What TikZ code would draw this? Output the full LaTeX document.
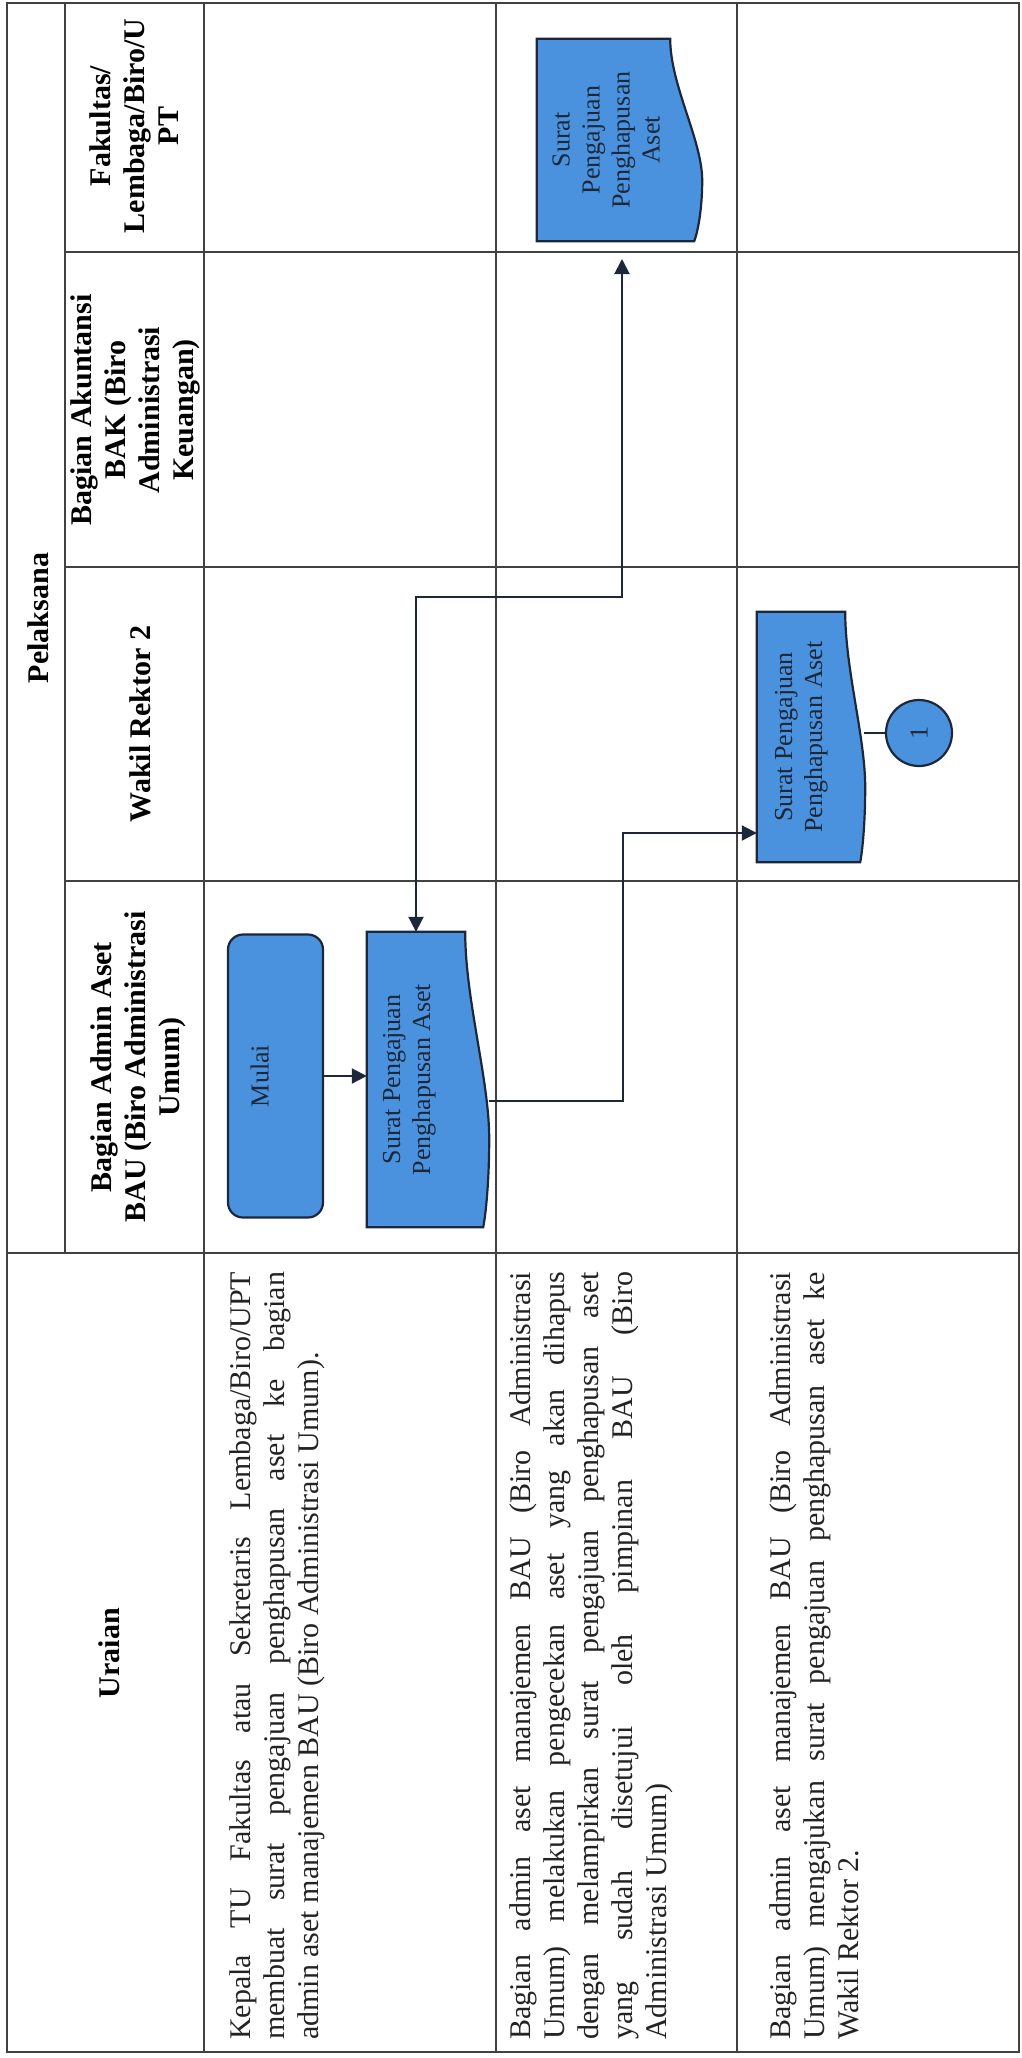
\documentclass[tikz,border=0pt]{standalone}
\usepackage{fontspec}
\usepackage{graphicx}
\setmainfont{Liberation Serif}
\usetikzlibrary{arrows.meta,calc,backgrounds}
\definecolor{boxblue}{RGB}{74,146,222}
\definecolor{boxline}{RGB}{28,40,58}
\definecolor{gridc}{RGB}{65,65,65}
\definecolor{txt}{RGB}{35,35,35}
\newcommand{\rtxt}[2]{\rotatebox{90}{\raisebox{#1}[0pt][0pt]{\begin{tabular}[b]{@{}c@{}}#2\end{tabular}}}}
\newcommand{\docshape}[2]{%
  \path[shapefill] let \p1=(#1.north west), \p2=(#1.south east), \n1={\y1-\y2} in
    (\x1,\y1) -- (\x2,\y1)
    .. controls (\x2,\y1-0.23*\n1) and (\x2+#2pt,\y1-0.5*\n1) .. (\x2+#2pt,\y1-0.7*\n1)
    .. controls (\x2+#2pt,\y1-0.85*\n1) and (\x2+0.85*#2pt,\y1-0.96*\n1) .. (\x2+0.75*#2pt,\y2)
    -- (\x1,\y2) -- cycle;}
\begin{document}
\begin{tikzpicture}[x=1pt,y=1pt,
  grid/.style={draw=gridc, line width=1.8pt},
  hdr/.style={font=\bfseries\fontsize{30}{34}\selectfont, align=center, rotate=90, inner sep=0, text=black},
  para/.style={font=\fontsize{30}{34}\selectfont, text width=768pt, align=justify, rotate=90, inner sep=0, anchor=north west, text=txt},
  boxnode/.style={inner sep=0, font=\fontsize{26}{30}\selectfont, text=boxline},
  shapefill/.style={fill=boxblue, draw=boxline, line width=2.2pt},
  arr/.style={draw=boxline, line width=2pt, -{Triangle[length=15pt,width=15pt]}},
  dbl/.style={draw=boxline, line width=2pt, {Triangle[length=15pt,width=15pt]}-{Triangle[length=15pt,width=15pt]}},
  link/.style={draw=boxline, line width=2pt},
]
\useasboundingbox (0,0) rectangle (1022,-2058);

% table grid
\draw[grid] (7,-3) rectangle (1019,-2052);
\draw[grid] (65,-3) -- (65,-1253);
\draw[grid] (204,-3) -- (204,-2052);
\draw[grid] (496,-3) -- (496,-2052);
\draw[grid] (737,-3) -- (737,-2052);
\draw[grid] (65,-252) -- (1019,-252);
\draw[grid] (65,-567) -- (1019,-567);
\draw[grid] (65,-881) -- (1019,-881);
\draw[grid] (7,-1253) -- (1019,-1253);

% headers
\node[hdr] (hPel) at (38,-618) {Pelaksana};
\node[hdr] (hFak) at (134,-126) {Fakultas/\\Lembaga/Biro/U\\PT};
\node[hdr] (hBak) at (135,-410) {Bagian Akuntansi\\BAK (Biro\\Administrasi\\Keuangan)};
\node[hdr] (hWak) at (140,-724) {Wakil Rektor 2};
\node[hdr] (hBau) at (138,-1067) {Bagian Admin Aset\\BAU (Biro Administrasi\\Umum)};
\node[hdr] (hUra) at (109,-1653) {Uraian};

% descriptions
\node[para] (r1) at (229,-2040) {Kepala TU Fakultas atau Sekretaris Lembaga/Biro/UPT\linebreak
membuat surat pengajuan penghapusan aset ke bagian\linebreak
admin aset manajemen BAU (Biro Administrasi Umum).};
\node[para] (r2) at (509,-2040) {Bagian admin aset manajemen BAU (Biro Administrasi\linebreak
Umum) melakukan pengecekan aset yang akan dihapus\linebreak
dengan melampirkan surat pengajuan penghapusan aset\linebreak
yang sudah disetujui oleh pimpinan BAU (Biro\linebreak
Administrasi Umum)};
\node[para] (r3) at (769,-2040) {Bagian admin aset manajemen BAU (Biro Administrasi\linebreak
Umum) mengajukan surat pengajuan penghapusan aset ke\linebreak
Wakil Rektor 2.};

% flow nodes
\node[boxnode, draw=boxline, fill=boxblue, line width=2.2pt, rounded corners=15pt,
      minimum width=95pt, minimum height=283pt] (mulai) at (275.5,-1076) {\rtxt{7pt}{Mulai}};
\node[boxnode, minimum width=98pt, minimum height=295pt] (s1) at (416,-1079.5)
      {\rtxt{-14pt}{Surat Pengajuan\\Penghapusan Aset}};
\node[boxnode, minimum width=88pt, minimum height=250pt] (s2) at (801,-737)
      {\rtxt{-21pt}{Surat Pengajuan\\Penghapusan Aset}};
\node[boxnode, minimum width=133pt, minimum height=202pt] (s3) at (603.5,-140)
      {\rtxt{-56pt}{Surat\\Pengajuan\\Penghapusan\\Aset}};
\node[boxnode, circle, draw=boxline, fill=boxblue, line width=2.2pt, minimum size=66pt] (c1) at (919,-733)
      {\rotatebox{90}{1}};

\begin{scope}[on background layer]
  \fill[white] (0,0) rectangle (1022,-2058);
  \docshape{s1}{24}
  \docshape{s2}{20}
  \docshape{s3}{32}
\end{scope}

% connectors
\coordinate (fakTip) at (622,-259);
\coordinate (s1out) at (489,-1101);
\coordinate (bend) at (623,-833);
\coordinate (s2out) at (864,-733);

\draw[arr] (mulai.east) -- (mulai.east -| s1.west);
\draw[dbl] (s1.north) -- ++(0,335) -| (fakTip);
\draw[arr] (s1out) -| (bend) -- (bend -| s2.west);
\draw[link] (s2out) -- (c1.west);
\end{tikzpicture}
\end{document}
